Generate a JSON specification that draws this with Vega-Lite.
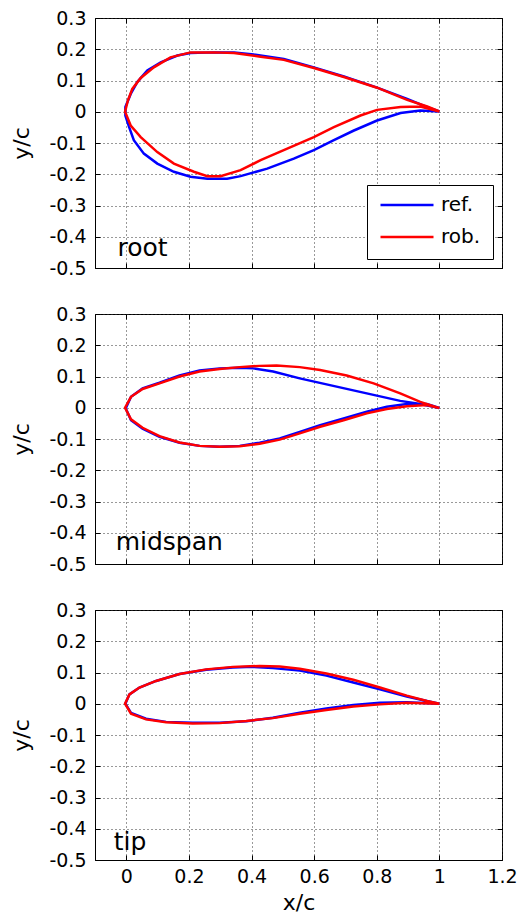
{
  "$schema": "https://vega.github.io/schema/vega-lite/v6.json",
  "background": "white",
  "padding": {"left": 10, "top": 8, "right": 4, "bottom": 0},
  "config": {
    "font": "DejaVu Sans",
    "view": {"stroke": "black", "strokeWidth": 1},
    "axis": {
      "labelFont": "DejaVu Sans", "labelFontSize": 19, "labelColor": "black",
      "titleFont": "DejaVu Sans", "titleFontSize": 22, "titleFontWeight": "normal", "titleColor": "black",
      "domainColor": "black", "tickColor": "black", "tickSize": -5, "tickWidth": 1,
      "gridColor": "#333333", "gridDash": [1, 3], "gridOpacity": 1, "gridWidth": 1,
      "labelFlush": false, "labelOverlap": false
    }
  },
  "datasets": {
    "airfoil": [
      {"p":"root","s":"ref.","x":1.0,"y":0.001},{"p":"root","s":"ref.","x":0.961,"y":0.015},{"p":"root","s":"ref.","x":0.897,"y":0.041},{"p":"root","s":"ref.","x":0.801,"y":0.077},{"p":"root","s":"ref.","x":0.695,"y":0.113},{"p":"root","s":"ref.","x":0.599,"y":0.142},{"p":"root","s":"ref.","x":0.503,"y":0.169},{"p":"root","s":"ref.","x":0.407,"y":0.183},{"p":"root","s":"ref.","x":0.344,"y":0.19},{"p":"root","s":"ref.","x":0.28,"y":0.19},{"p":"root","s":"ref.","x":0.205,"y":0.188},{"p":"root","s":"ref.","x":0.163,"y":0.18},{"p":"root","s":"ref.","x":0.11,"y":0.158},{"p":"root","s":"ref.","x":0.067,"y":0.132},{"p":"root","s":"ref.","x":0.035,"y":0.095},{"p":"root","s":"ref.","x":0.014,"y":0.057},{"p":"root","s":"ref.","x":-0.003,"y":0.015},
      {"p":"root","s":"ref.","x":-0.003,"y":-0.012},{"p":"root","s":"ref.","x":0.009,"y":-0.049},{"p":"root","s":"ref.","x":0.024,"y":-0.091},{"p":"root","s":"ref.","x":0.056,"y":-0.134},{"p":"root","s":"ref.","x":0.099,"y":-0.166},{"p":"root","s":"ref.","x":0.152,"y":-0.192},{"p":"root","s":"ref.","x":0.205,"y":-0.208},{"p":"root","s":"ref.","x":0.259,"y":-0.214},{"p":"root","s":"ref.","x":0.322,"y":-0.214},{"p":"root","s":"ref.","x":0.365,"y":-0.206},{"p":"root","s":"ref.","x":0.45,"y":-0.182},{"p":"root","s":"ref.","x":0.535,"y":-0.15},{"p":"root","s":"ref.","x":0.599,"y":-0.123},{"p":"root","s":"ref.","x":0.663,"y":-0.091},{"p":"root","s":"ref.","x":0.727,"y":-0.06},{"p":"root","s":"ref.","x":0.801,"y":-0.028},{"p":"root","s":"ref.","x":0.876,"y":-0.004},{"p":"root","s":"ref.","x":0.939,"y":0.004},{"p":"root","s":"ref.","x":1.0,"y":0.001},

      {"p":"root","s":"rob.","x":1.0,"y":0.001},{"p":"root","s":"rob.","x":0.961,"y":0.017},{"p":"root","s":"rob.","x":0.897,"y":0.038},{"p":"root","s":"rob.","x":0.801,"y":0.077},{"p":"root","s":"rob.","x":0.695,"y":0.111},{"p":"root","s":"rob.","x":0.599,"y":0.14},{"p":"root","s":"rob.","x":0.503,"y":0.166},{"p":"root","s":"rob.","x":0.429,"y":0.176},{"p":"root","s":"rob.","x":0.344,"y":0.188},{"p":"root","s":"rob.","x":0.28,"y":0.19},{"p":"root","s":"rob.","x":0.205,"y":0.19},{"p":"root","s":"rob.","x":0.141,"y":0.174},{"p":"root","s":"rob.","x":0.088,"y":0.142},{"p":"root","s":"rob.","x":0.046,"y":0.108},{"p":"root","s":"rob.","x":0.019,"y":0.073},{"p":"root","s":"rob.","x":0.005,"y":0.036},{"p":"root","s":"rob.","x":-0.004,"y":0.0},
      {"p":"root","s":"rob.","x":0.014,"y":-0.044},{"p":"root","s":"rob.","x":0.046,"y":-0.081},{"p":"root","s":"rob.","x":0.099,"y":-0.129},{"p":"root","s":"rob.","x":0.152,"y":-0.166},{"p":"root","s":"rob.","x":0.216,"y":-0.192},{"p":"root","s":"rob.","x":0.259,"y":-0.206},{"p":"root","s":"rob.","x":0.301,"y":-0.206},{"p":"root","s":"rob.","x":0.365,"y":-0.187},{"p":"root","s":"rob.","x":0.429,"y":-0.155},{"p":"root","s":"rob.","x":0.503,"y":-0.123},{"p":"root","s":"rob.","x":0.599,"y":-0.081},{"p":"root","s":"rob.","x":0.663,"y":-0.049},{"p":"root","s":"rob.","x":0.748,"y":-0.012},{"p":"root","s":"rob.","x":0.801,"y":0.006},{"p":"root","s":"rob.","x":0.876,"y":0.015},{"p":"root","s":"rob.","x":0.939,"y":0.017},{"p":"root","s":"rob.","x":1.0,"y":0.001},

      {"p":"mid","s":"ref.","x":1.0,"y":-0.001},{"p":"mid","s":"ref.","x":0.939,"y":0.012},{"p":"mid","s":"ref.","x":0.875,"y":0.022},{"p":"mid","s":"ref.","x":0.768,"y":0.046},{"p":"mid","s":"ref.","x":0.661,"y":0.07},{"p":"mid","s":"ref.","x":0.554,"y":0.094},{"p":"mid","s":"ref.","x":0.469,"y":0.116},{"p":"mid","s":"ref.","x":0.405,"y":0.126},{"p":"mid","s":"ref.","x":0.362,"y":0.128},{"p":"mid","s":"ref.","x":0.298,"y":0.126},{"p":"mid","s":"ref.","x":0.234,"y":0.119},{"p":"mid","s":"ref.","x":0.17,"y":0.103},{"p":"mid","s":"ref.","x":0.106,"y":0.08},{"p":"mid","s":"ref.","x":0.052,"y":0.062},{"p":"mid","s":"ref.","x":0.015,"y":0.035},{"p":"mid","s":"ref.","x":-0.002,"y":-0.002},
      {"p":"mid","s":"ref.","x":0.015,"y":-0.04},{"p":"mid","s":"ref.","x":0.052,"y":-0.067},{"p":"mid","s":"ref.","x":0.106,"y":-0.093},{"p":"mid","s":"ref.","x":0.17,"y":-0.112},{"p":"mid","s":"ref.","x":0.234,"y":-0.122},{"p":"mid","s":"ref.","x":0.298,"y":-0.125},{"p":"mid","s":"ref.","x":0.362,"y":-0.122},{"p":"mid","s":"ref.","x":0.426,"y":-0.112},{"p":"mid","s":"ref.","x":0.49,"y":-0.098},{"p":"mid","s":"ref.","x":0.554,"y":-0.077},{"p":"mid","s":"ref.","x":0.619,"y":-0.056},{"p":"mid","s":"ref.","x":0.694,"y":-0.034},{"p":"mid","s":"ref.","x":0.768,"y":-0.013},{"p":"mid","s":"ref.","x":0.832,"y":0.003},{"p":"mid","s":"ref.","x":0.896,"y":0.012},{"p":"mid","s":"ref.","x":0.96,"y":0.012},{"p":"mid","s":"ref.","x":1.0,"y":-0.001},

      {"p":"mid","s":"rob.","x":1.0,"y":-0.001},{"p":"mid","s":"rob.","x":0.939,"y":0.019},{"p":"mid","s":"rob.","x":0.875,"y":0.046},{"p":"mid","s":"rob.","x":0.79,"y":0.078},{"p":"mid","s":"rob.","x":0.704,"y":0.103},{"p":"mid","s":"rob.","x":0.619,"y":0.121},{"p":"mid","s":"rob.","x":0.554,"y":0.13},{"p":"mid","s":"rob.","x":0.48,"y":0.135},{"p":"mid","s":"rob.","x":0.426,"y":0.134},{"p":"mid","s":"rob.","x":0.362,"y":0.13},{"p":"mid","s":"rob.","x":0.298,"y":0.124},{"p":"mid","s":"rob.","x":0.234,"y":0.116},{"p":"mid","s":"rob.","x":0.17,"y":0.1},{"p":"mid","s":"rob.","x":0.106,"y":0.078},{"p":"mid","s":"rob.","x":0.052,"y":0.06},{"p":"mid","s":"rob.","x":0.015,"y":0.035},{"p":"mid","s":"rob.","x":-0.004,"y":0.0},
      {"p":"mid","s":"rob.","x":0.015,"y":-0.037},{"p":"mid","s":"rob.","x":0.052,"y":-0.064},{"p":"mid","s":"rob.","x":0.106,"y":-0.091},{"p":"mid","s":"rob.","x":0.17,"y":-0.111},{"p":"mid","s":"rob.","x":0.234,"y":-0.122},{"p":"mid","s":"rob.","x":0.298,"y":-0.125},{"p":"mid","s":"rob.","x":0.362,"y":-0.123},{"p":"mid","s":"rob.","x":0.426,"y":-0.115},{"p":"mid","s":"rob.","x":0.49,"y":-0.102},{"p":"mid","s":"rob.","x":0.554,"y":-0.082},{"p":"mid","s":"rob.","x":0.619,"y":-0.061},{"p":"mid","s":"rob.","x":0.694,"y":-0.04},{"p":"mid","s":"rob.","x":0.768,"y":-0.018},{"p":"mid","s":"rob.","x":0.832,"y":-0.004},{"p":"mid","s":"rob.","x":0.896,"y":0.005},{"p":"mid","s":"rob.","x":0.96,"y":0.009},{"p":"mid","s":"rob.","x":1.0,"y":-0.001},

      {"p":"tip","s":"ref.","x":1.0,"y":0.0},{"p":"tip","s":"ref.","x":0.96,"y":0.009},{"p":"tip","s":"ref.","x":0.896,"y":0.023},{"p":"tip","s":"ref.","x":0.81,"y":0.046},{"p":"tip","s":"ref.","x":0.725,"y":0.068},{"p":"tip","s":"ref.","x":0.639,"y":0.09},{"p":"tip","s":"ref.","x":0.554,"y":0.106},{"p":"tip","s":"ref.","x":0.468,"y":0.114},{"p":"tip","s":"ref.","x":0.404,"y":0.118},{"p":"tip","s":"ref.","x":0.34,"y":0.116},{"p":"tip","s":"ref.","x":0.255,"y":0.109},{"p":"tip","s":"ref.","x":0.17,"y":0.095},{"p":"tip","s":"ref.","x":0.095,"y":0.073},{"p":"tip","s":"ref.","x":0.042,"y":0.052},{"p":"tip","s":"ref.","x":0.01,"y":0.03},{"p":"tip","s":"ref.","x":-0.003,"y":0.0},
      {"p":"tip","s":"ref.","x":0.015,"y":-0.029},{"p":"tip","s":"ref.","x":0.063,"y":-0.048},{"p":"tip","s":"ref.","x":0.127,"y":-0.058},{"p":"tip","s":"ref.","x":0.212,"y":-0.061},{"p":"tip","s":"ref.","x":0.298,"y":-0.061},{"p":"tip","s":"ref.","x":0.383,"y":-0.056},{"p":"tip","s":"ref.","x":0.468,"y":-0.045},{"p":"tip","s":"ref.","x":0.554,"y":-0.029},{"p":"tip","s":"ref.","x":0.639,"y":-0.015},{"p":"tip","s":"ref.","x":0.725,"y":-0.004},{"p":"tip","s":"ref.","x":0.81,"y":0.003},{"p":"tip","s":"ref.","x":0.896,"y":0.005},{"p":"tip","s":"ref.","x":1.0,"y":0.0},

      {"p":"tip","s":"rob.","x":1.0,"y":0.0},{"p":"tip","s":"rob.","x":0.96,"y":0.009},{"p":"tip","s":"rob.","x":0.896,"y":0.026},{"p":"tip","s":"rob.","x":0.81,"y":0.052},{"p":"tip","s":"rob.","x":0.725,"y":0.077},{"p":"tip","s":"rob.","x":0.639,"y":0.097},{"p":"tip","s":"rob.","x":0.554,"y":0.112},{"p":"tip","s":"rob.","x":0.49,"y":0.119},{"p":"tip","s":"rob.","x":0.426,"y":0.121},{"p":"tip","s":"rob.","x":0.34,"y":0.118},{"p":"tip","s":"rob.","x":0.255,"y":0.11},{"p":"tip","s":"rob.","x":0.17,"y":0.095},{"p":"tip","s":"rob.","x":0.095,"y":0.073},{"p":"tip","s":"rob.","x":0.042,"y":0.052},{"p":"tip","s":"rob.","x":0.01,"y":0.03},{"p":"tip","s":"rob.","x":-0.004,"y":0.0},
      {"p":"tip","s":"rob.","x":0.015,"y":-0.032},{"p":"tip","s":"rob.","x":0.063,"y":-0.05},{"p":"tip","s":"rob.","x":0.127,"y":-0.059},{"p":"tip","s":"rob.","x":0.212,"y":-0.063},{"p":"tip","s":"rob.","x":0.298,"y":-0.062},{"p":"tip","s":"rob.","x":0.383,"y":-0.055},{"p":"tip","s":"rob.","x":0.468,"y":-0.046},{"p":"tip","s":"rob.","x":0.554,"y":-0.032},{"p":"tip","s":"rob.","x":0.639,"y":-0.02},{"p":"tip","s":"rob.","x":0.725,"y":-0.009},{"p":"tip","s":"rob.","x":0.81,"y":-0.002},{"p":"tip","s":"rob.","x":0.896,"y":0.003},{"p":"tip","s":"rob.","x":1.0,"y":0.0}
    ]
  },
  "spacing": 25,
  "resolve": {"legend": {"color": "independent"}},
  "vconcat": [
    {
      "width": 407, "height": 250,
      "layer": [
        {
          "data": {"name": "airfoil"},
          "transform": [{"filter": "datum.p == 'root'"}],
          "mark": {"type": "line", "strokeWidth": 2.5, "clip": true},
          "encoding": {
            "x": {"field": "x", "type": "quantitative", "scale": {"domain": [-0.1, 1.2], "nice": false, "zero": false},
                  "axis": {"orient": "bottom", "values": [0, 0.2, 0.4, 0.6, 0.8, 1, 1.2], "labels": false, "title": null, "grid": true}},
            "y": {"field": "y", "type": "quantitative", "scale": {"domain": [-0.5, 0.3], "nice": false, "zero": false},
                  "axis": {"orient": "left", "values": [-0.5, -0.4, -0.3, -0.2, -0.1, 0, 0.1, 0.2, 0.3], "labelExpr": "'' + datum.value", "labelPadding": 14, "title": "y/c", "titlePadding": 15, "grid": true}},
            "color": {"field": "s", "type": "nominal", "scale": {"domain": ["ref.", "rob."], "range": ["#0000ff", "#ff0000"]},
                      "legend": {"orient": "bottom-right", "offset": 9, "title": null, "symbolType": "stroke", "symbolStrokeWidth": 2.5, "symbolSize": 2809,
                                 "labelFontSize": 20, "labelFont": "DejaVu Sans", "labelColor": "black", "labelOffset": 6,
                                 "strokeColor": "black", "fillColor": "white", "padding": 12, "clipHeight": 16, "rowPadding": 12}},
            "order": {"value": null}
          }
        },
        {
          "data": {"values": [{}]},
          "mark": {"type": "text", "align": "left", "baseline": "alphabetic", "fontSize": 25, "font": "DejaVu Sans", "color": "black"},
          "encoding": {
            "x": {"datum": -0.028, "type": "quantitative", "axis": {"orient": "top", "values": [0, 0.2, 0.4, 0.6, 0.8, 1, 1.2], "labels": false, "title": null, "grid": false, "domain": false}},
            "y": {"datum": -0.463, "type": "quantitative", "axis": {"orient": "right", "values": [-0.5, -0.4, -0.3, -0.2, -0.1, 0, 0.1, 0.2, 0.3], "labels": false, "title": null, "grid": false, "domain": false}},
            "text": {"value": "root"}
          }
        }
      ],
      "resolve": {"axis": {"x": "independent", "y": "independent"}}
    },
    {
      "width": 407, "height": 250,
      "layer": [
        {
          "data": {"name": "airfoil"},
          "transform": [{"filter": "datum.p == 'mid'"}],
          "mark": {"type": "line", "strokeWidth": 2.5, "clip": true},
          "encoding": {
            "x": {"field": "x", "type": "quantitative", "scale": {"domain": [-0.1, 1.2], "nice": false, "zero": false},
                  "axis": {"orient": "bottom", "values": [0, 0.2, 0.4, 0.6, 0.8, 1, 1.2], "labels": false, "title": null, "grid": true}},
            "y": {"field": "y", "type": "quantitative", "scale": {"domain": [-0.5, 0.3], "nice": false, "zero": false},
                  "axis": {"orient": "left", "values": [-0.5, -0.4, -0.3, -0.2, -0.1, 0, 0.1, 0.2, 0.3], "labelExpr": "'' + datum.value", "labelPadding": 14, "title": "y/c", "titlePadding": 15, "grid": true}},
            "color": {"field": "s", "type": "nominal", "scale": {"domain": ["ref.", "rob."], "range": ["#0000ff", "#ff0000"]}, "legend": null},
            "order": {"value": null}
          }
        },
        {
          "data": {"values": [{}]},
          "mark": {"type": "text", "align": "left", "baseline": "alphabetic", "fontSize": 25, "font": "DejaVu Sans", "color": "black"},
          "encoding": {
            "x": {"datum": -0.034, "type": "quantitative", "axis": {"orient": "top", "values": [0, 0.2, 0.4, 0.6, 0.8, 1, 1.2], "labels": false, "title": null, "grid": false, "domain": false}},
            "y": {"datum": -0.455, "type": "quantitative", "axis": {"orient": "right", "values": [-0.5, -0.4, -0.3, -0.2, -0.1, 0, 0.1, 0.2, 0.3], "labels": false, "title": null, "grid": false, "domain": false}},
            "text": {"value": "midspan"}
          }
        }
      ],
      "resolve": {"axis": {"x": "independent", "y": "independent"}}
    },
    {
      "width": 407, "height": 250,
      "layer": [
        {
          "data": {"name": "airfoil"},
          "transform": [{"filter": "datum.p == 'tip'"}],
          "mark": {"type": "line", "strokeWidth": 2.5, "clip": true},
          "encoding": {
            "x": {"field": "x", "type": "quantitative", "scale": {"domain": [-0.1, 1.2], "nice": false, "zero": false},
                  "axis": {"orient": "bottom", "values": [0, 0.2, 0.4, 0.6, 0.8, 1, 1.2], "labelExpr": "'' + datum.value", "labelPadding": 12, "title": "x/c", "titlePadding": 6, "grid": true}},
            "y": {"field": "y", "type": "quantitative", "scale": {"domain": [-0.5, 0.3], "nice": false, "zero": false},
                  "axis": {"orient": "left", "values": [-0.5, -0.4, -0.3, -0.2, -0.1, 0, 0.1, 0.2, 0.3], "labelExpr": "'' + datum.value", "labelPadding": 14, "title": "y/c", "titlePadding": 15, "grid": true}},
            "color": {"field": "s", "type": "nominal", "scale": {"domain": ["ref.", "rob."], "range": ["#0000ff", "#ff0000"]}, "legend": null},
            "order": {"value": null}
          }
        },
        {
          "data": {"values": [{}]},
          "mark": {"type": "text", "align": "left", "baseline": "alphabetic", "fontSize": 25, "font": "DejaVu Sans", "color": "black"},
          "encoding": {
            "x": {"datum": -0.04, "type": "quantitative", "axis": {"orient": "top", "values": [0, 0.2, 0.4, 0.6, 0.8, 1, 1.2], "labels": false, "title": null, "grid": false, "domain": false}},
            "y": {"datum": -0.468, "type": "quantitative", "axis": {"orient": "right", "values": [-0.5, -0.4, -0.3, -0.2, -0.1, 0, 0.1, 0.2, 0.3], "labels": false, "title": null, "grid": false, "domain": false}},
            "text": {"value": "tip"}
          }
        }
      ],
      "resolve": {"axis": {"x": "independent", "y": "independent"}}
    }
  ]
}
